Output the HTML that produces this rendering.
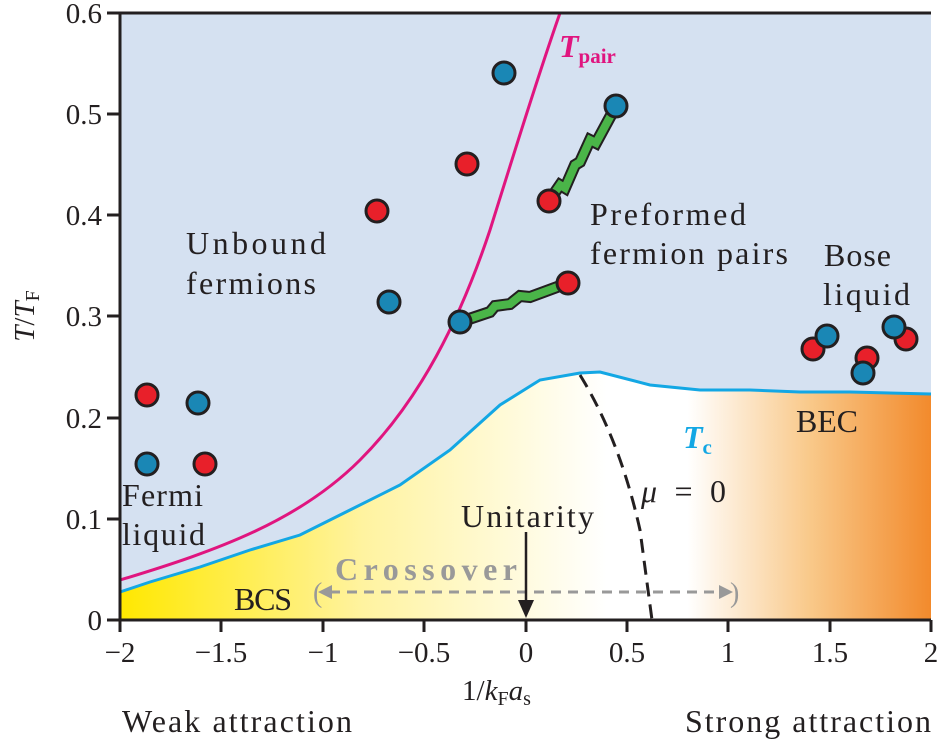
<!DOCTYPE html>
<html><head><meta charset="utf-8"><style>
body{margin:0;background:#fff}
svg text{font-family:"Liberation Serif",serif;fill:#231f20}
</style></head><body>
<svg width="940" height="744" viewBox="0 0 940 744">
<defs>
<linearGradient id="g" x1="120" x2="931" y1="0" y2="0" gradientUnits="userSpaceOnUse">
<stop offset="0" stop-color="#ffe800"/>
<stop offset="0.3" stop-color="#fff3a0"/>
<stop offset="0.6" stop-color="#ffffff"/>
<stop offset="0.7" stop-color="#ffffff"/>
<stop offset="0.85" stop-color="#f9c98a"/>
<stop offset="1" stop-color="#f28a2c"/>
</linearGradient>
</defs>
<rect x="120" y="13" width="811" height="607" fill="#d5e1f1"/>
<path d="M120,592 L150,582 200,567 250,550 300,535 350,510 400,485 450,450 500,405 540,380 580,373 600,372 650,385 700,390 750,390 800,392 850,392 931,394 L931,620 L120,620Z" fill="url(#g)"/>
<path d="M120,580 C220,550 300,520 360,460 C420,400 460,320 490,230 C515,150 540,70 560,13" fill="none" stroke="#e0157f" stroke-width="3"/>
<path d="M120,592 L150,582 200,567 250,550 300,535 350,510 400,485 450,450 500,405 540,380 580,373 600,372 650,385 700,390 750,390 800,392 850,392 931,394" fill="none" stroke="#13a7e4" stroke-width="3"/>
<path d="M580,375 Q620,440 640,530 L652,620" fill="none" stroke="#231f20" stroke-width="3" stroke-dasharray="14,8"/>
<line x1="330" y1="592" x2="720" y2="592" stroke="#999" stroke-width="3" stroke-dasharray="10,7"/>
<path d="M318,592 l14,-7 v14z M733,592 l-14,-7 v14z" fill="#999"/>
<text x="313" y="602" font-size="28" style="fill:#999">(</text>
<text x="730" y="602" font-size="28" style="fill:#999">)</text>
<line x1="526" y1="532" x2="526" y2="605" stroke="#231f20" stroke-width="2.5"/>
<path d="M518,600 h16 l-8,18z" fill="#231f20"/>
<path d="M549,201 L560,185 565,188 575,165 580,162 590,140 596,143 616,106" stroke="#231f20" stroke-width="12" fill="none"/>
<path d="M549,201 L560,185 565,188 575,165 580,162 590,140 596,143 616,106" stroke="#4ab548" stroke-width="8" fill="none"/>
<path d="M460,322 L490,312 495,306 510,304 520,296 530,297 568,283" stroke="#231f20" stroke-width="12" fill="none"/>
<path d="M460,322 L490,312 495,306 510,304 520,296 530,297 568,283" stroke="#4ab548" stroke-width="8" fill="none"/>
<g stroke="#231f20" stroke-width="3">
<g fill="#e8202a">
<circle cx="147" cy="395" r="11"/><circle cx="205" cy="464" r="11"/><circle cx="377" cy="211" r="11"/><circle cx="467" cy="164" r="11"/><circle cx="549" cy="201" r="11"/><circle cx="568" cy="283" r="11"/><circle cx="813" cy="349" r="11"/><circle cx="867" cy="358" r="11"/><circle cx="906" cy="339" r="11"/>
</g>
<g fill="#1a87b5">
<circle cx="147" cy="464" r="11"/><circle cx="198" cy="403" r="11"/><circle cx="389" cy="302" r="11"/><circle cx="504" cy="73" r="11"/><circle cx="616" cy="106" r="11"/><circle cx="460" cy="322" r="11"/><circle cx="827" cy="336" r="11"/><circle cx="863" cy="373" r="11"/><circle cx="894" cy="327" r="11"/>
</g></g>
<path d="M120,13 V620 H931 M120,13 H931" fill="none" stroke="#231f20" stroke-width="3"/>
<g stroke="#231f20" stroke-width="3">
<line x1="107" x2="120" y1="13" y2="13"/><line x1="107" x2="120" y1="114" y2="114"/><line x1="107" x2="120" y1="215" y2="215"/><line x1="107" x2="120" y1="316" y2="316"/><line x1="107" x2="120" y1="418" y2="418"/><line x1="107" x2="120" y1="519" y2="519"/><line x1="107" x2="120" y1="620" y2="620"/>
<line x1="120" x2="120" y1="620" y2="632"/><line x1="221" x2="221" y1="620" y2="632"/><line x1="323" x2="323" y1="620" y2="632"/><line x1="424" x2="424" y1="620" y2="632"/><line x1="526" x2="526" y1="620" y2="632"/><line x1="627" x2="627" y1="620" y2="632"/><line x1="728" x2="728" y1="620" y2="632"/><line x1="830" x2="830" y1="620" y2="632"/><line x1="931" x2="931" y1="620" y2="632"/>
</g>
<g font-size="29" text-anchor="end">
<text x="102" y="23">0.6</text><text x="102" y="124">0.5</text><text x="102" y="225">0.4</text><text x="102" y="326">0.3</text><text x="102" y="428">0.2</text><text x="102" y="529">0.1</text><text x="102" y="630">0</text>
</g>
<g font-size="29" text-anchor="middle">
<text x="120" y="662">−2</text><text x="221" y="662">−1.5</text><text x="323" y="662">−1</text><text x="424" y="662">−0.5</text><text x="526" y="662">0</text><text x="627" y="662">0.5</text><text x="728" y="662">1</text><text x="830" y="662">1.5</text><text x="931" y="662">2</text>
</g>
<text x="462" y="700" font-size="29">1/<tspan font-style="italic">k</tspan><tspan font-size="20" dy="5">F</tspan><tspan font-style="italic" dy="-5">a</tspan><tspan font-size="20" dy="5">s</tspan></text>
<text font-size="29" transform="translate(34,316) rotate(-90)" text-anchor="middle"><tspan font-style="italic">T</tspan>/<tspan font-style="italic">T</tspan><tspan font-size="20" dy="5">F</tspan></text>
<g font-size="32">
<text x="122" y="732" textLength="230">Weak attraction</text>
<text x="685" y="732" textLength="246">Strong attraction</text>
<text x="186" y="254" textLength="140">Unbound</text><text x="186" y="294" textLength="130">fermions</text>
<text x="590" y="225" textLength="156">Preformed</text><text x="590" y="264" textLength="198">fermion pairs</text>
<text x="824" y="266" textLength="67">Bose</text><text x="823" y="305" textLength="87">liquid</text>
<text x="122" y="506" textLength="81">Fermi</text><text x="122" y="545" textLength="83">liquid</text>
<text x="234" y="610" textLength="58">BCS</text>
<text x="796" y="432" textLength="62">BEC</text>
<text x="461" y="527" textLength="133">Unitarity</text>
<text x="641" y="502" textLength="85"><tspan font-style="italic">μ</tspan> = 0</text>
<text x="335" y="580" font-weight="bold" textLength="182" style="fill:#999">Crossover</text>
<text x="559" y="57" font-weight="bold" font-style="italic" style="fill:#e0157f">T<tspan font-size="21" font-style="normal" dy="6">pair</tspan></text>
<text x="683" y="448" font-weight="bold" font-style="italic" style="fill:#13a7e4">T<tspan font-size="21" font-style="normal" dy="6">c</tspan></text>
</g>
</svg>
</body></html>
